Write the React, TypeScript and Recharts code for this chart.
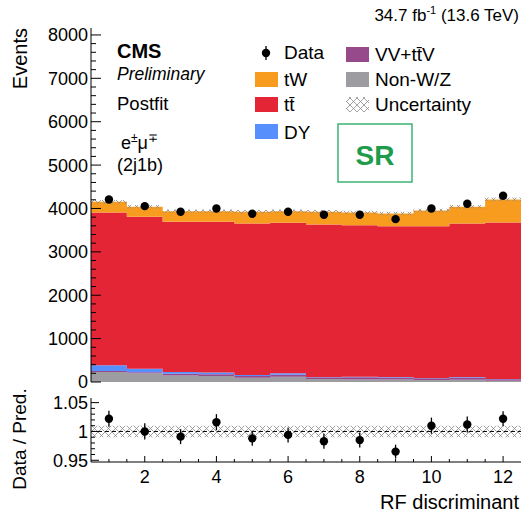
import React from 'react';
import { ComposedChart, Area, Scatter, XAxis, YAxis, ErrorBar, ReferenceLine } from 'recharts';

// bin centres / edges of the RF discriminant histogram
const bins = [1, 2, 3, 4, 5, 6, 7, 8, 9, 10, 11, 12];
const binEdges = [0.5, 1.5, 2.5, 3.5, 4.5, 5.5, 6.5, 7.5, 8.5, 9.5, 10.5, 11.5, 12.5];

// stacked postfit predictions (events), bottom to top
const nonWZ = [230, 200, 150, 140, 100, 120, 70, 60, 55, 45, 50, 30];
const vvttv = [25, 25, 40, 40, 40, 50, 20, 50, 50, 40, 55, 35];
const dy = [130, 80, 40, 40, 20, 30, 20, 10, 10, 10, 10, 5];
const ttbar = [3523, 3503, 3462, 3472, 3494, 3469, 3521, 3495, 3477, 3497, 3539, 3607];
const tw = [246, 230, 246, 246, 269, 269, 292, 293, 293, 362, 384, 531];

const dataEvents = [4208, 4054, 3923, 4000, 3877, 3923, 3854, 3854, 3754, 4000, 4108, 4292];
const ratio = [1.022, 1.0, 0.991, 1.016, 0.988, 0.994, 0.983, 0.985, 0.965, 1.01, 1.012, 1.022];
const ratioErr = [0.014, 0.014, 0.013, 0.014, 0.013, 0.013, 0.013, 0.013, 0.012, 0.014, 0.014, 0.013];
const relUnc = [0.01, 0.01, 0.01, 0.01, 0.01, 0.01, 0.01, 0.01, 0.01, 0.01, 0.01, 0.01];

const xTicks = [1, 1.5, 2, 2.5, 3, 3.5, 4, 4.5, 5, 5.5, 6, 6.5, 7, 7.5, 8, 8.5, 9, 9.5, 10, 10.5, 11, 11.5, 12];
const xLabels = [2, 4, 6, 8, 10, 12];
const yLabels = [0, 1000, 2000, 3000, 4000, 5000, 6000, 7000, 8000];
const ratioLabels = [0.95, 1, 1.05];

const C = {
  tw: '#f89c20',
  tt: '#e42536',
  dy: '#5790fc',
  vv: '#964a8b',
  nonwz: '#9c9ca1',
};
const font = '"Liberation Sans", Arial, Helvetica, sans-serif';

const yTicks: number[] = [];
for (let v = 0; v <= 8000; v += 200) yTicks.push(v);
const rTicks: number[] = [];
for (let k = 95; k <= 105; k++) rTicks.push(k / 100);

const near = (v: number, list: number[]) => list.some((l) => Math.abs(l - v) < 1e-6);

const stackData = binEdges.map((x, i) => {
  const j = Math.min(i, bins.length - 1);
  const total = nonWZ[j] + vvttv[j] + dy[j] + ttbar[j] + tw[j];
  return {
    x,
    nonwz: nonWZ[j],
    vv: vvttv[j],
    dy: dy[j],
    tt: ttbar[j],
    tw: tw[j],
    band: [total * (1 - relUnc[j]), total * (1 + relUnc[j])],
  };
});
const dataPoints = bins.map((x, i) => ({ x, y: dataEvents[i] }));

const ratioBand = binEdges.map((x, i) => {
  const j = Math.min(i, bins.length - 1);
  return { x, band: [1 - relUnc[j], 1 + relUnc[j]] };
});
const ratioPoints = bins.map((x, i) => ({ x, y: ratio[i], err: ratioErr[i] }));

// ROOT-style inward ticks
const makeTick = (side: string, majors: number[], len: [number, number], fmt?: (v: number) => string) => (props: any) => {
  const { x, y, payload } = props;
  const v = payload.value;
  const m = near(v, majors);
  const l = m ? len[0] : len[1];
  let line;
  if (side === 'left') line = <line x1={x} x2={x + l} y1={y} y2={y} stroke="#000" />;
  else if (side === 'right') line = <line x1={x} x2={x - l} y1={y} y2={y} stroke="#000" />;
  else if (side === 'top') line = <line x1={x} x2={x} y1={y} y2={y + l} stroke="#000" />;
  else line = <line x1={x} x2={x} y1={y} y2={y - l} stroke="#000" />;
  return (
    <g>
      {line}
      {fmt && m && side === 'left' && (
        <text x={x - 3} y={y} dy="0.36em" textAnchor="end" fontSize={18} fontFamily={font} fill="#000">
          {fmt(v)}
        </text>
      )}
      {fmt && m && side === 'bottom' && (
        <text x={x} y={y + 21} textAnchor="middle" fontSize={18} fontFamily={font} fill="#000">
          {fmt(v)}
        </text>
      )}
    </g>
  );
};

const dot = (props: any) => <circle cx={props.cx} cy={props.cy} r={4.2} fill="#000" />;

const axisLine = { stroke: '#000', strokeWidth: 1 };

export default function App() {
  return (
    <div style={{ position: 'absolute', left: 0, top: 0, width: 524, height: 512, background: '#fff', overflow: 'hidden' }}>
      <svg width={0} height={0} style={{ position: 'absolute' }}>
        <defs>
          <pattern id="hatch" width="7" height="7" patternUnits="userSpaceOnUse">
            <path d="M0,0 L7,7 M7,0 L0,7" stroke="#8a8a8a" strokeWidth={0.8} />
          </pattern>
        </defs>
      </svg>

      <div style={{ position: 'absolute', left: 0, top: 0 }}>
        <ComposedChart width={524} height={396} data={stackData} margin={{ top: 28, right: 3, bottom: 14, left: 0 }}>
          <XAxis xAxisId="b" dataKey="x" type="number" domain={[0.5, 12.5]} allowDataOverflow ticks={xTicks} interval={0}
            height={0} tickSize={0} tickMargin={0} axisLine={axisLine} tick={makeTick('bottom', xLabels, [10, 5])} />
          <XAxis xAxisId="t" orientation="top" dataKey="x" type="number" domain={[0.5, 12.5]} allowDataOverflow ticks={xTicks}
            interval={0} height={0} tickSize={0} tickMargin={0} axisLine={axisLine} tick={makeTick('top', xLabels, [10, 5])} />
          <YAxis yAxisId="l" dataKey="y" type="number" domain={[0, 8160]} allowDataOverflow ticks={yTicks} interval={0}
            width={91} tickSize={0} tickMargin={0} axisLine={axisLine}
            tick={makeTick('left', yLabels, [10, 5], (v) => String(v))} />
          <YAxis yAxisId="r" orientation="right" type="number" domain={[0, 8160]} allowDataOverflow ticks={yTicks} interval={0}
            width={0} tickSize={0} tickMargin={0} axisLine={axisLine} tick={makeTick('right', yLabels, [10, 5])} />
          <Area xAxisId="b" yAxisId="l" type="stepAfter" dataKey="nonwz" stackId="s" fill={C.nonwz} fillOpacity={1} stroke="none" isAnimationActive={false} dot={false} activeDot={false} />
          <Area xAxisId="b" yAxisId="l" type="stepAfter" dataKey="vv" stackId="s" fill={C.vv} fillOpacity={1} stroke="none" isAnimationActive={false} dot={false} activeDot={false} />
          <Area xAxisId="b" yAxisId="l" type="stepAfter" dataKey="dy" stackId="s" fill={C.dy} fillOpacity={1} stroke="none" isAnimationActive={false} dot={false} activeDot={false} />
          <Area xAxisId="b" yAxisId="l" type="stepAfter" dataKey="tt" stackId="s" fill={C.tt} fillOpacity={1} stroke="none" isAnimationActive={false} dot={false} activeDot={false} />
          <Area xAxisId="b" yAxisId="l" type="stepAfter" dataKey="tw" stackId="s" fill={C.tw} fillOpacity={1} stroke="none" isAnimationActive={false} dot={false} activeDot={false} />
          <Area xAxisId="b" yAxisId="l" type="stepAfter" dataKey="band" fill="url(#hatch)" fillOpacity={1} stroke="none" isAnimationActive={false} dot={false} activeDot={false} />
          <Scatter xAxisId="b" yAxisId="l" data={dataPoints} dataKey="y" shape={dot} isAnimationActive={false} />
        </ComposedChart>
      </div>

      <div style={{ position: 'absolute', left: 0, top: 390 }}>
        <ComposedChart width={524} height={122} data={ratioBand} margin={{ top: 8, right: 3, bottom: 0, left: 0 }}>
          <XAxis xAxisId="b" dataKey="x" type="number" domain={[0.5, 12.5]} allowDataOverflow ticks={xTicks} interval={0}
            height={50} tickSize={0} tickMargin={0} axisLine={axisLine}
            tick={makeTick('bottom', xLabels, [6, 3], (v) => String(v))} />
          <XAxis xAxisId="t" orientation="top" dataKey="x" type="number" domain={[0.5, 12.5]} allowDataOverflow ticks={xTicks}
            interval={0} height={0} tickSize={0} tickMargin={0} axisLine={axisLine} tick={makeTick('top', xLabels, [6, 3])} />
          <YAxis yAxisId="l" dataKey="y" type="number" domain={[0.947, 1.058]} allowDataOverflow ticks={rTicks} interval={0}
            width={91} tickSize={0} tickMargin={0} axisLine={axisLine}
            tick={makeTick('left', ratioLabels, [8, 4], (v) => String(Math.round(v * 100) / 100))} />
          <YAxis yAxisId="r" orientation="right" type="number" domain={[0.947, 1.058]} allowDataOverflow ticks={rTicks} interval={0}
            width={0} tickSize={0} tickMargin={0} axisLine={axisLine} tick={makeTick('right', ratioLabels, [8, 4])} />
          <Area xAxisId="b" yAxisId="l" type="stepAfter" dataKey="band" fill="url(#hatch)" fillOpacity={1} stroke="none" isAnimationActive={false} dot={false} activeDot={false} />
          <ReferenceLine xAxisId="b" yAxisId="l" y={1} stroke="#000" strokeDasharray="4 3" />
          <Scatter xAxisId="b" yAxisId="l" data={ratioPoints} dataKey="y" shape={dot} isAnimationActive={false}>
            <ErrorBar dataKey="err" direction="y" width={0} stroke="#000" strokeWidth={1.3} />
          </Scatter>
        </ComposedChart>
      </div>

      <svg width={524} height={512} style={{ position: 'absolute', left: 0, top: 0, pointerEvents: 'none' }} fontFamily={font}>
        <text x={519} y={21} textAnchor="end" fontSize={17}>
          34.7 fb<tspan dy={-7} fontSize={11}>-1</tspan>
          <tspan dy={7}> (13.6 TeV)</tspan>
        </text>
        <text transform="translate(27,28) rotate(-90)" textAnchor="end" fontSize={20}>Events</text>
        <text transform="translate(26,439) rotate(-90)" textAnchor="middle" fontSize={19}>Data / Pred.</text>
        <text x={519} y={509} textAnchor="end" fontSize={20}>RF discriminant</text>

        <text x={117} y={58} fontSize={20} fontWeight="bold">CMS</text>
        <text x={117} y={80} fontSize={17.5} fontStyle="italic">Preliminary</text>
        <text x={117} y={110} fontSize={18.5}>Postfit</text>
        <text x={121} y={149} fontSize={18}>
          e<tspan dy={-7} fontSize={12}>±</tspan>
          <tspan dy={7}>μ</tspan>
          <tspan dy={-7} fontSize={12}>∓</tspan>
        </text>
        <text x={117} y={171} fontSize={18}>(2j1b)</text>

        <line x1={266} x2={266} y1={46} y2={60} stroke="#000" strokeWidth={1.3} />
        <circle cx={266} cy={53} r={4.2} fill="#000" />
        <text x={284} y={59} fontSize={19}>Data</text>
        <rect x={255} y={72} width={23} height={15} fill={C.tw} />
        <text x={284} y={86} fontSize={19}>tW</text>
        <rect x={255} y={97} width={23} height={15} fill={C.tt} />
        <text x={284} y={111} fontSize={19}>t{'t\u0304'}</text>
        <rect x={255} y={124} width={23} height={15} fill={C.dy} />
        <text x={284} y={139} fontSize={19}>DY</text>

        <rect x={346} y={47} width={23} height={15} fill={C.vv} />
        <text x={375} y={61} fontSize={19}>VV+t{'t\u0304'}V</text>
        <rect x={346} y={72} width={23} height={15} fill={C.nonwz} />
        <text x={375} y={86} fontSize={19}>Non-W/Z</text>
        <rect x={346} y={97} width={23} height={15} fill="url(#hatch)" />
        <text x={375} y={111} fontSize={19}>Uncertainty</text>

        <rect x={338} y={124} width={74} height={58} fill="none" stroke="#3cb371" strokeWidth={1.5} />
        <text x={375} y={165} textAnchor="middle" fontSize={28} fontWeight="bold" fill="#1e9b4b">SR</text>
      </svg>
    </div>
  );
}
